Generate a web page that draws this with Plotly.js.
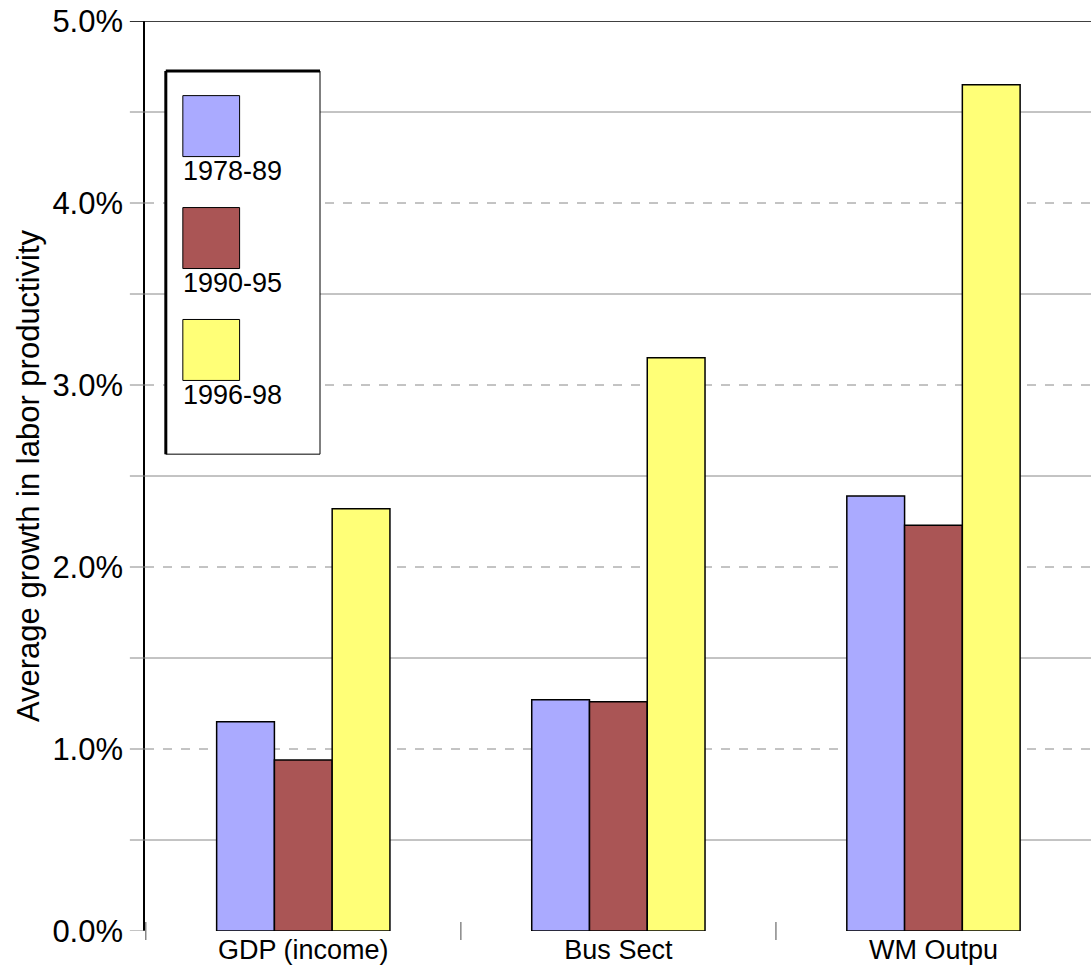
<!DOCTYPE html>
<html>
<head>
<script src="https://cdn.plot.ly/plotly-3.0.1.min.js"></script>
<style>body{margin:0;background:#fff}</style>
</head>
<body>
<div id="chart" style="width:1091px;height:979px"></div>
<script>
var categories = ['GDP (income)', 'Bus Sect', 'WM Outpu'];
var periods = ['1978-89', '1990-95', '1996-98'];
var colors = ['#aaaaff', '#aa5555', '#ffff77'];
var values = [
    [0.0115, 0.0127, 0.0239],
    [0.0094, 0.0126, 0.0223],
    [0.0232, 0.0315, 0.0465]
];
var solidGrid = [0.005, 0.015, 0.025, 0.035, 0.045];
var dashGrid = [0.01, 0.02, 0.03, 0.04];
var yTicks = [0, 0.01, 0.02, 0.03, 0.04, 0.05];

var traces = periods.map(function(p, i) {
    return {
        x: categories, y: values[i], type: 'bar', name: p,
        marker: { color: colors[i], line: { color: '#000', width: 1.5 } },
        hoverinfo: 'y'
    };
});

var shapes = [];
solidGrid.forEach(function(v) {
    shapes.push({ type: 'line', xref: 'paper', x0: 0, x1: 1, y0: v, y1: v, layer: 'below', line: { color: '#888', width: 1 } });
    shapes.push({ type: 'line', xref: 'paper', x0: -0.016, x1: 0, y0: v, y1: v, line: { color: '#888', width: 1 } });
});
dashGrid.forEach(function(v) {
    shapes.push({ type: 'line', xref: 'paper', x0: 0, x1: 1, y0: v, y1: v, layer: 'below', line: { color: '#888', width: 1, dash: 'dash' } });
});
yTicks.forEach(function(v) {
    shapes.push({ type: 'line', xref: 'paper', x0: -0.016, x1: 0, y0: v, y1: v, line: { color: '#888', width: 1 } });
});
// top border
shapes.push({ type: 'line', xref: 'paper', x0: -0.016, x1: 1, y0: 0.05, y1: 0.05, line: { color: '#000', width: 1.5 } });
// category separators on x axis
[-0.5, 0.5, 1.5].forEach(function(c) {
    shapes.push({ type: 'line', x0: c, x1: c, yref: 'paper', y0: -0.01, y1: 0.01, line: { color: '#888', width: 1.5 } });
});

// custom legend box
var annotations = [];
shapes.push({ type: 'rect', xref: 'paper', yref: 'paper', x0: 0.022, x1: 0.185, y0: 0.524, y1: 0.945, line: { color: '#000', width: 1 }, fillcolor: '#fff' });
shapes.push({ type: 'line', xref: 'paper', yref: 'paper', x0: 0.022, x1: 0.022, y0: 0.524, y1: 0.945, line: { color: '#000', width: 3 } });
shapes.push({ type: 'line', xref: 'paper', yref: 'paper', x0: 0.022, x1: 0.185, y0: 0.945, y1: 0.945, line: { color: '#000', width: 3 } });
periods.forEach(function(p, i) {
    var top = 0.918 - i * 0.123;
    shapes.push({ type: 'rect', xref: 'paper', yref: 'paper', x0: 0.04, x1: 0.1, y0: top - 0.067, y1: top, fillcolor: colors[i], line: { color: '#000', width: 1 } });
    annotations.push({ xref: 'paper', yref: 'paper', x: 0.038, y: top - 0.064, xanchor: 'left', yanchor: 'top', text: p, showarrow: false, font: { size: 27, color: '#000' } });
});

var layout = {
    width: 1091, height: 979,
    margin: { l: 145, r: 0, t: 21, b: 48 },
    paper_bgcolor: '#fff', plot_bgcolor: '#fff',
    font: { family: 'Liberation Sans, Arial, sans-serif', color: '#000' },
    barmode: 'group', bargap: 0.45, bargroupgap: 0,
    showlegend: false,
    xaxis: { showgrid: false, zeroline: false, showline: false, ticks: '', tickfont: { size: 27 } },
    yaxis: {
        range: [0, 0.05], tickvals: yTicks, tickformat: '.1%', showgrid: false, zeroline: false,
        showline: true, linecolor: '#000', linewidth: 1.5, tickfont: { size: 31 }, ticks: '',
        ticklabelstandoff: 14,
        title: { text: 'Average growth in labor productivity', font: { size: 31 }, standoff: 4 }
    },
    shapes: shapes,
    annotations: annotations
};
Plotly.newPlot('chart', traces, layout, { displayModeBar: false });
</script>
</body>
</html>
